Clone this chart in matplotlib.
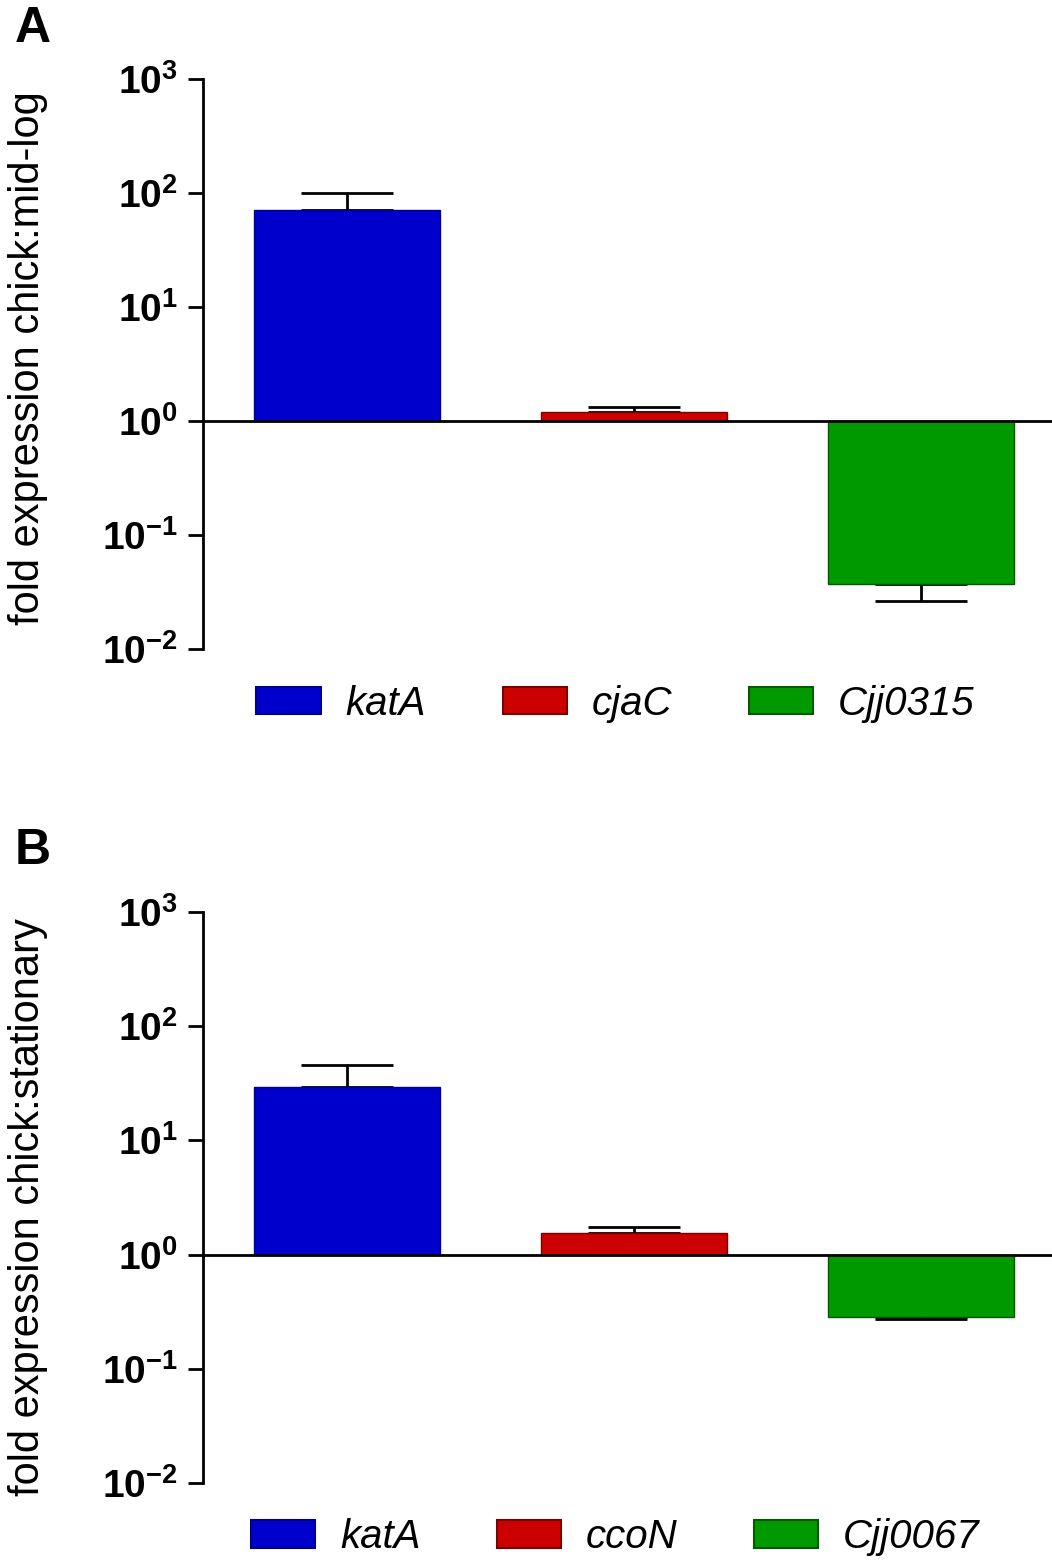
import numpy as np
import matplotlib
matplotlib.use("Agg")
import matplotlib.pyplot as plt
from matplotlib import font_manager
from matplotlib.ticker import FixedLocator, FuncFormatter, NullLocator
from matplotlib.patches import Patch

# narrow bold for the tick labels if it is there, else plain Liberation Sans
installed = {f.name for f in font_manager.fontManager.ttflist}
tick_font = 'Liberation Sans Narrow' if 'Liberation Sans Narrow' in installed else 'Liberation Sans'
tick_size = 30 if tick_font == 'Liberation Sans Narrow' else 28

plt.rcParams['font.family'] = ['Liberation Sans', 'DejaVu Sans']
plt.rcParams['mathtext.fontset'] = 'custom'
plt.rcParams['mathtext.rm'] = tick_font + ':bold'
plt.rcParams['mathtext.bf'] = tick_font + ':bold'
plt.rcParams['mathtext.it'] = tick_font + ':bold'

# ─── data (fold change, mean and one-sided error end) ─────────────────────────
genes_a = ['katA', 'cjaC', 'Cjj0315']
fold_a = [70.5, 1.20, 0.0375]
err_a = [100.0, 1.34, 0.0266]

genes_b = ['katA', 'ccoN', 'Cjj0067']
fold_b = [29.2, 1.54, 0.284]
err_b = [46.1, 1.74, 0.273]

ylabels = ['fold expression chick:mid-log', 'fold expression chick:stationary']
panel_letters = ['A', 'B']

fills = ['#0000cc', '#cc0000', '#009900']
edges = ['#00008a', '#7a0000', '#005a00']

# ─── figure ───────────────────────────────────────────────────────────────────
fig = plt.figure(figsize=(10.52, 15.62), dpi=100)

axes_pos = [[0.193, 0.5843, 0.807, 0.3651],
            [0.193, 0.0508, 0.807, 0.3651]]
legend_y = [0.5496, 0.0158]
letter_y = [1 - 6 / 1562, 1 - 828 / 1562]


def log_label(v, pos):
    e = int(round(np.log10(v)))
    return r'$\mathbf{10^{%d}}$' % e


for i, (genes, fold, err) in enumerate([(genes_a, fold_a, err_a),
                                        (genes_b, fold_b, err_b)]):
    ax = fig.add_axes(axes_pos[i])
    x = np.arange(len(genes))
    fold = np.array(fold)
    err = np.array(err)

    # one-sided error bars, pointing away from 1
    lo = np.where(fold < 1, fold - err, 0)
    hi = np.where(fold >= 1, err - fold, 0)
    ax.errorbar(x, fold, yerr=[lo, hi], fmt='none', ecolor='black',
                elinewidth=2.0, capsize=33, capthick=2.0, zorder=1)

    ax.bar(x, fold - 1, bottom=1, width=0.65, color=fills,
           edgecolor=edges, linewidth=1.0, zorder=2)

    ax.axhline(1, color='black', lw=2.0, zorder=3)

    ax.set_yscale('log')
    ax.set_ylim(1e-2, 1e3)
    ax.set_xlim(-0.502, 2.456)
    ax.yaxis.set_major_locator(FixedLocator([1e-2, 1e-1, 1, 1e1, 1e2, 1e3]))
    ax.yaxis.set_minor_locator(NullLocator())
    ax.yaxis.set_major_formatter(FuncFormatter(log_label))
    ax.tick_params(axis='y', length=11, width=2.0, labelsize=tick_size, pad=7)
    ax.set_xticks([])

    for s in ['top', 'right', 'bottom']:
        ax.spines[s].set_visible(False)
    ax.spines['left'].set_linewidth(2.0)

    ax.set_ylabel(ylabels[i], fontsize=30)
    ax.yaxis.set_label_coords(-0.183, 0.51 if i == 0 else 0.483)

    handles = [Patch(facecolor=fills[k], edgecolor=edges[k], linewidth=1.5)
               for k in range(3)]
    fig.legend(handles, genes, loc='center', ncol=3,
               bbox_to_anchor=(0.585, legend_y[i]), frameon=False,
               prop={'size': 29, 'style': 'italic'},
               handlelength=1.59, handleheight=0.67,
               handletextpad=0.62, columnspacing=1.9)

    fig.text(0.014, letter_y[i], panel_letters[i], fontsize=36,
             fontweight='bold', va='top', ha='left')

fig.savefig('out.png', dpi=100)
